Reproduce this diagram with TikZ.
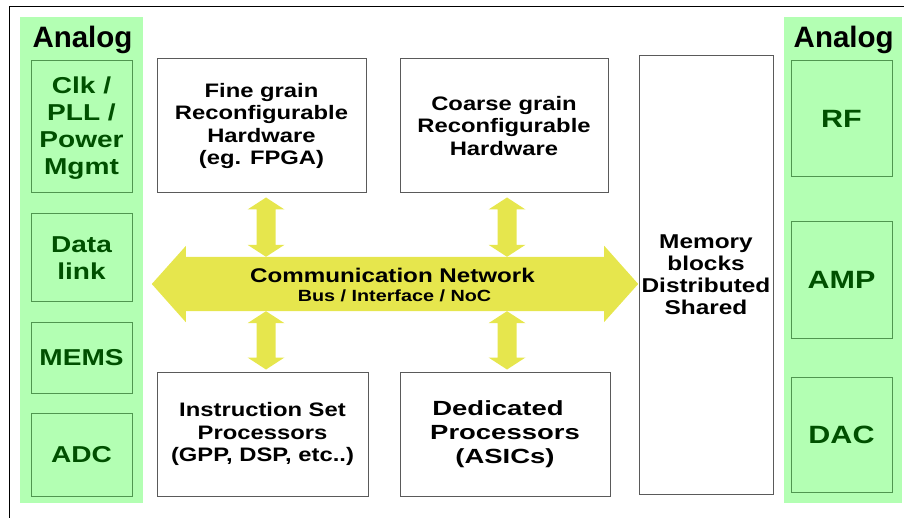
\documentclass[tikz,border=0pt]{standalone}
\usepackage{fontspec}
\newfontfamily\plainsans{Liberation Sans}
\newfontfamily\widesans[FakeStretch=1.22]{Liberation Sans}
\newfontfamily\widersans[FakeStretch=1.34]{Liberation Sans}
\usetikzlibrary{calc}

\definecolor{analogfill}{RGB}{179,255,179}
\definecolor{analogline}{RGB}{80,150,80}
\definecolor{analogtext}{RGB}{0,80,0}
\definecolor{linkfill}{RGB}{230,230,77}
\definecolor{boxline}{RGB}{90,90,90}

\tikzset{
	every block/.style={draw=boxline, line width=1pt, fill=white, align=center, inner sep=0pt,
		font=\widesans\bfseries\fontsize{19.5}{22.4}\selectfont},
	analog column/.style={fill=analogfill, inner sep=0pt, minimum height=486pt},
	analog block/.style={draw=analogline, line width=1pt, fill=analogfill, align=center,
		inner sep=0pt, minimum width=101pt, text=analogtext,
		font=\widesans\bfseries\fontsize{23}{27}\selectfont},
	analog title/.style={inner sep=0pt, font=\plainsans\bfseries\fontsize{29.5}{32}\selectfont},
	link/.style={fill=linkfill}
}

% double headed link between two tips (top, bottom)
\newcommand{\linkarrow}[2]{%
	\fill[link] (#1) -- ++(18.5,12) -- ++(-9,0) -- ($(#2)+(9.5,-12)$) -- ++(9,0) -- (#2)
		-- ++(-18.5,-12) -- ++(9,0) -- ($(#1)+(-9.5,12)$) -- ++(-9,0) -- cycle;}

\begin{document}
\begin{tikzpicture}[x=1pt, y=-1pt]
	
	\useasboundingbox (0,0) rectangle (904,518);
	\draw[line width=1pt] (9,518) -- (9,6.5) -- (904,6.5);
	
	% analog columns
	\node [analog column, minimum width=123pt] (left-col) at (81.5,260) {};
	\node [analog column, minimum width=118pt] (right-col) at (843,260) {};
	\node [analog title] (left-title) at (82.5,40) {Analog};
	\node [analog title] (right-title) at (843.7,40) {Analog};
	
	\node [analog block, minimum height=132pt] (clk) at (81.5,127) {};
	\node [align=center, text=analogtext, inner sep=0pt,
		font=\widesans\bfseries\fontsize{23}{27}\selectfont] (clk-text) at (81.5,128.5) {Clk /\\PLL /\\Power\\Mgmt};
	\node [analog block, minimum height=88pt] (data) at (81.5,258) {Data\\link};
	\node [analog block, minimum height=71pt] (mems) at (81.5,357.5) {MEMS};
	\node [analog block, minimum height=83pt] (adc) at (81.5,454.5) {ADC};
	
	\node [analog block, minimum height=116pt, font=\widesans\bfseries\fontsize{25}{28}\selectfont] (rf) at (841.5,119) {RF};
	\node [analog block, minimum height=116pt, font=\widesans\bfseries\fontsize{25}{28}\selectfont] (amp) at (841.5,280) {AMP};
	\node [analog block, minimum height=115pt, font=\widesans\bfseries\fontsize{25}{28}\selectfont] (dac) at (841.5,434.5) {DAC};
	
	% processing blocks
	\node [every block, minimum width=209pt, minimum height=134pt] (fine) at (261.5,126)
		{Fine grain\\Reconfigurable\\Hardware\\(eg. FPGA)};
	\node [every block, minimum width=208pt, minimum height=134pt] (coarse) at (504,126)
		{Coarse grain\\Reconfigurable\\Hardware};
	\node [every block, minimum width=211pt, minimum height=124pt] (instr) at (262.5,434)
		{Instruction Set\\Processors\\(GPP, DSP, etc..)};
	\node [every block, minimum width=210pt, minimum height=124pt,
		font=\widersans\bfseries\fontsize{20.5}{24}\selectfont] (ded) at (505,434)
		{Dedicated\hspace*{14pt}\\Processors\\(ASICs)};
	\node [every block, minimum width=134pt, minimum height=438pt,
		font=\widesans\bfseries\fontsize{20}{22}\selectfont] (memory) at (706,275)
		{Memory\\blocks\\Distributed\\Shared};
	
	% communication network
	\node [inner sep=0pt, minimum width=418pt, minimum height=54pt] (bus) at (395,284) {};
	\fill[link] ($(bus.west)+(-34,0)$) -- ++(34,-38) -- ++(0,11) -- (bus.north east) -- ++(0,-11)
		-- ($(bus.east)+(34,0)$) -- ++(-34,38) -- ++(0,-11) -- (bus.south west) -- ++(0,11) -- cycle;
	\node [inner sep=0pt, font=\widesans\bfseries\fontsize{19.8}{22}\selectfont] (bus-title) at (392.5,275)
		{Communication Network};
	\node [inner sep=0pt, font=\widesans\bfseries\fontsize{16.2}{18}\selectfont] (bus-sub) at (394.5,296)
		{Bus / Interface / NoC};
	
	\foreach \n/\dx in {fine/4.5, coarse/3} {
		\coordinate (\n-link) at ($(\n.south)+(\dx,4)$);
		\coordinate (\n-bus) at (\n-link |- bus.north);
		\linkarrow{\n-link}{\n-bus}
	}
	
	\foreach \n/\dx in {instr/3.5, ded/2} {
		\coordinate (\n-link) at ($(\n.north)+(\dx,-2)$);
		\coordinate (\n-bus) at (\n-link |- bus.south);
		\linkarrow{\n-bus}{\n-link}
	}
	
\end{tikzpicture}
\end{document}
